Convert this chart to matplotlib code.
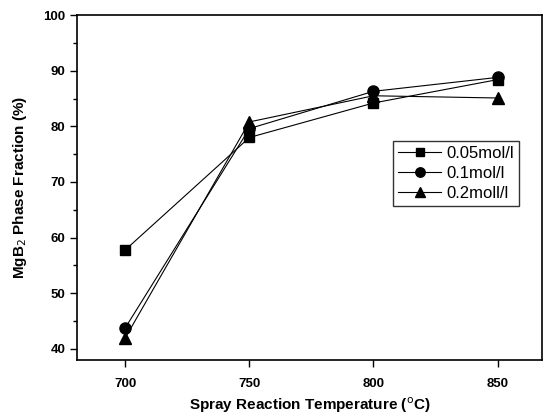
import matplotlib.pyplot as plt
from matplotlib.ticker import MultipleLocator

plt.rcParams['font.family'] = ['Liberation Sans', 'DejaVu Sans']

# Phase fraction vs spray reaction temperature
temps = [700, 750, 800, 850]
frac_005 = [57.8, 78.0, 84.2, 88.4]
frac_01 = [43.8, 79.6, 86.3, 88.8]
frac_02 = [42.0, 80.8, 85.5, 85.1]

fig = plt.figure(figsize=(5.46, 4.2), dpi=100)
ax = fig.add_axes([0.141, 0.143, 0.852, 0.821])

ax.plot(temps, frac_005, '-s', color='black', lw=0.8, ms=7, label='0.05mol/l')
ax.plot(temps, frac_01, '-o', color='black', lw=0.8, ms=8, label='0.1mol/l')
ax.plot(temps, frac_02, '-^', color='black', lw=0.8, ms=8, label='0.2moll/l')

ax.set_xlim(680.5, 868)
ax.set_ylim(38, 100)
ax.set_xticks(temps)
ax.yaxis.set_major_locator(MultipleLocator(10))
ax.yaxis.set_minor_locator(MultipleLocator(5))
ax.tick_params(axis='both', which='major', direction='out', length=5, width=1,
               labelsize=9.5)
ax.tick_params(axis='x', which='major', pad=8)
ax.tick_params(axis='y', which='minor', direction='out', length=3, width=1)
for lab in ax.get_xticklabels() + ax.get_yticklabels():
    lab.set_fontweight('bold')
for sp in ax.spines.values():
    sp.set_linewidth(1.2)

ax.set_xlabel('Spray Reaction Temperature ($^{\\rm o}$C)', fontsize=11,
              fontweight='bold', va='center')
ax.xaxis.set_label_coords(0.5, -0.13)
ax.set_ylabel('MgB$_{\\rm 2}$ Phase Fraction (%)', fontsize=11,
              fontweight='bold', va='center')
ax.yaxis.set_label_coords(-0.123, 0.5)

leg = ax.legend(loc='upper left', bbox_to_anchor=(0.679, 0.636), fontsize=12,
                frameon=True, fancybox=False, edgecolor='black',
                handlelength=2.6, handletextpad=0.3, borderpad=0.3,
                labelspacing=0.3, borderaxespad=0, markerscale=0.85)
leg.get_frame().set_linewidth(1.0)

fig.savefig('out.png', dpi=100)
